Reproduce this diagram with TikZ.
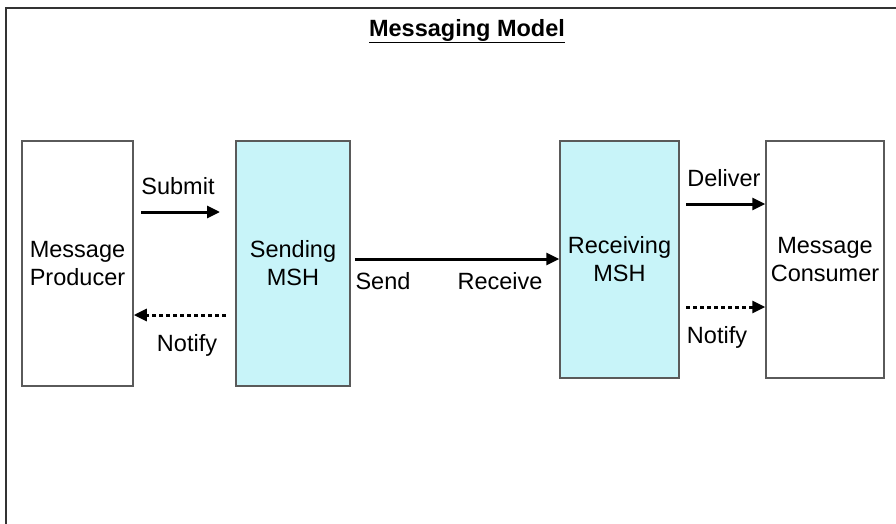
\documentclass[tikz,border=0pt]{standalone}
\usepackage{fontspec}
\setmainfont{Liberation Sans}
\usepackage{xcolor}
\usetikzlibrary{arrows.meta}
\definecolor{msh}{HTML}{C8F4F9}
\definecolor{bd}{HTML}{5A5A5A}

\begin{document}
\begin{tikzpicture}[
            x = 1pt, y = -1pt,
            > = {Triangle[length = 13pt, width = 12pt]}, % arrow head style
            font = \fontsize{23.5}{28}\selectfont,
            flow/.style = {->, line width = 3pt},
            note/.style = {->, line width = 3pt, dash pattern = on 4pt off 3pt}
        ]

        \tikzstyle{every node}=[inner sep = 0pt, align = center]
        \tikzstyle{box}=[
            draw = bd,
            line width = 1.5pt,
            fill = white
        ]

        \useasboundingbox (0, 0) rectangle (896, 524);
        \draw[line width = 2pt, draw = black!80] (6, 524) -- (6, 8) -- (896, 8);

        \node (title) [at={(467, 31)}] {\textbf{\underline{Messaging Model}}};

        \node[box, minimum width = 111pt, minimum height = 245pt] (prod) [at={(77.5, 263.5)}] {Message\\Producer};
        \node[box, fill = msh, minimum width = 114pt, minimum height = 245pt] (send) [at={(293, 263.5)}] {Sending\\MSH};
        \node[box, fill = msh, minimum width = 119pt, minimum height = 237pt] (recv) [at={(619.5, 259.5)}] {Receiving\\MSH};
        \node[box, minimum width = 118pt, minimum height = 237pt] (cons) [at={(825, 259.5)}] {Message\\Consumer};

        \coordinate (sub0) at (141, 212);
        \coordinate (sub1) at (220, 212);
        \coordinate (ntf0) at (226, 315);
        \coordinate (dlv0) at (686, 204);
        \coordinate (ntf1) at (686, 307);

        \draw[flow] (sub0) -- (sub1);
        \draw[note] (ntf0) -- (prod.east |- ntf0);
        \draw[flow] ([xshift = 4pt]send.east |- 0, 259) -- (recv.west |- 0, 259);
        \draw[flow] (dlv0) -- (cons.west |- dlv0);
        \draw[note] (ntf1) -- (cons.west |- ntf1);

        \node (lsub) [at={(178, 186)}] {Submit};
        \node (lntf0) [at={(187, 345)}] {Notify};
        \node (lsend) [at={(383, 281)}] {Send};
        \node (lrecv) [at={(500, 281)}] {Receive};
        \node (ldlv) [at={(724, 178)}] {Deliver};
        \node (lntf1) [at={(717, 337)}] {Notify};
    \end{tikzpicture}
\end{document}
